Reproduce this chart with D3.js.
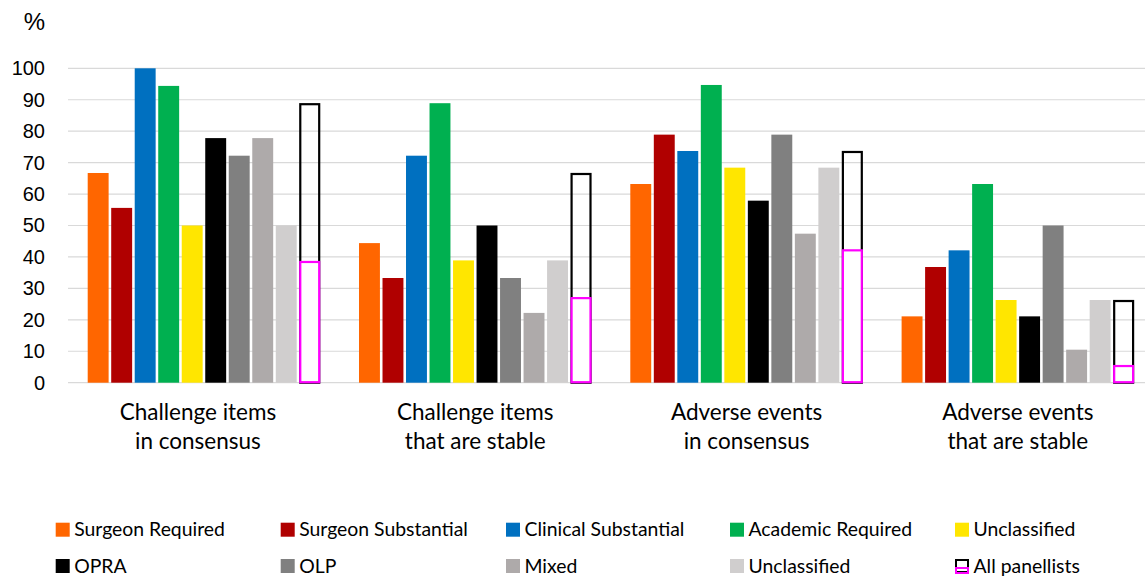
<!DOCTYPE html>
<html><head><meta charset="utf-8">
<script src="https://cdn.jsdelivr.net/npm/d3@7"></script>
<style>body{margin:0;background:#fff}svg{display:block}</style>
</head><body><svg id="c" width="1145" height="577"></svg>
<script>
const categories = [["Challenge items","in consensus"],["Challenge items","that are stable"],["Adverse events","in consensus"],["Adverse events","that are stable"]];
const seriesNames = ["Surgeon Required","Surgeon Substantial","Clinical Substantial","Academic Required","Unclassified","OPRA","OLP","Mixed","Unclassified"];
const seriesColors = ["#FF6600","#B00000","#0070C0","#00B050","#FFE600","#000000","#808080","#AEAAAA","#D0CECE"];
const seriesValues = [
  [66.7, 44.4, 63.2, 21.1],
  [55.6, 33.3, 78.9, 36.8],
  [100, 72.2, 73.7, 42.1],
  [94.4, 88.9, 94.7, 63.2],
  [50, 38.9, 68.4, 26.3],
  [77.8, 50, 57.9, 21.1],
  [72.2, 33.3, 78.9, 50],
  [77.8, 22.2, 47.4, 10.5],
  [50, 38.9, 68.4, 26.3]
];
const allPanellists = [88.9, 66.7, 73.7, 26.3];
const allPanellistsPart = [38.4, 26.9, 42.1, 5.3];
const yTicks = [0,10,20,30,40,50,60,70,80,90,100];

const svg = d3.select("#c");
const y = d3.scaleLinear().domain([0,100]).range([382.7, 68.3]);
const x0 = d3.scaleBand().domain(d3.range(categories.length)).range([68.3, 1153.5]);
const x1 = d3.scaleBand().domain(d3.range(10)).range([19.4, x0.bandwidth()-19.4]).paddingInner(0.11).paddingOuter(0);

// gridlines
svg.append("g").selectAll("line").data(yTicks).join("line")
  .attr("x1", 68).attr("x2", 1145)
  .attr("y1", d=>y(d)).attr("y2", d=>y(d))
  .attr("stroke", "#d9d9d9").attr("stroke-width", 1.2);

// y axis labels
const yAxis = d3.axisLeft(y).tickValues(yTicks).tickSize(0).tickPadding(0);
const ga = svg.append("g").attr("transform","translate(45,0)").call(yAxis);
ga.select(".domain").remove();
ga.selectAll("text").attr("font-family","Liberation Sans, Arial, sans-serif").attr("font-size",20).attr("fill","#000");
svg.append("text").attr("x",45).attr("y",30).attr("text-anchor","end")
  .attr("font-family","Liberation Sans, Arial, sans-serif").attr("font-size",24).text("%");

// bars
seriesValues.forEach((vals, s) => {
  svg.append("g").selectAll("rect").data(vals).join("rect")
    .attr("x", (d,i)=>x0(i)+x1(s))
    .attr("width", x1.bandwidth())
    .attr("y", d=>y(d))
    .attr("height", d=>y(0)-y(d))
    .attr("fill", seriesColors[s]);
});
svg.append("g").selectAll("rect").data(allPanellists).join("rect")
  .attr("x", (d,i)=>x0(i)+x1(9)+1)
  .attr("width", x1.bandwidth()-2)
  .attr("y", d=>y(d)+1)
  .attr("height", d=>y(0)-y(d)-1)
  .attr("fill","none").attr("stroke","#000").attr("stroke-width",2.2);
svg.append("g").selectAll("rect").data(allPanellistsPart).join("rect")
  .attr("x", (d,i)=>x0(i)+x1(9)+1)
  .attr("width", x1.bandwidth()-2)
  .attr("y", d=>y(d))
  .attr("height", d=>y(0)-y(d)-0.5)
  .attr("fill","#fff").attr("stroke","#FF00FF").attr("stroke-width",2.2);

// category labels
const cl = svg.append("g").selectAll("text").data(categories).join("text")
  .attr("text-anchor","middle")
  .attr("font-family","Lato, sans-serif").attr("font-size",22.5).attr("fill","#000");
cl.selectAll("tspan").data((d,i)=>d.map(t=>({t,i}))).join("tspan")
  .attr("x", d=>x0(d.i)+x0.bandwidth()/2 - (d.i===0?6:0))
  .attr("y", (d,k)=>420+k*29)
  .text(d=>d.t);

// legend
const legendItems = seriesNames.map((n,i)=>({name:n,color:seriesColors[i]}));
legendItems.push({name:"All panellists", special:true});
const colX = [55.7, 280.7, 506, 730, 955];
const rowY = [522.7, 559];
const lg = svg.append("g").selectAll("g").data(legendItems).join("g")
  .attr("transform",(d,i)=>`translate(${colX[i%5]},${rowY[Math.floor(i/5)]})`);
lg.filter(d=>!d.special).append("rect").attr("width",14).attr("height",14).attr("fill",d=>d.color);
const sp = lg.filter(d=>d.special);
sp.append("rect").attr("x",1).attr("y",1).attr("width",12).attr("height",12).attr("fill","#fff").attr("stroke","#000").attr("stroke-width",2);
sp.append("rect").attr("x",1).attr("y",9).attr("width",12).attr("height",5).attr("fill","none").attr("stroke","#FF00FF").attr("stroke-width",2);
lg.append("text").attr("x",18.5).attr("y",13.5)
  .attr("font-family","Lato, sans-serif").attr("font-size",19.4).attr("fill","#000")
  .text(d=>d.name);
</script></body></html>
